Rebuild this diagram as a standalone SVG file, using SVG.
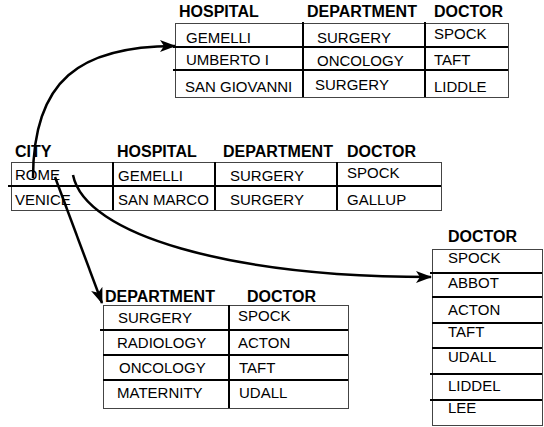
<svg xmlns="http://www.w3.org/2000/svg" width="544" height="427" viewBox="0 0 544 427">
<style>
.box{fill:#fff;stroke:#444;stroke-width:1}
.ln{stroke:#000;stroke-width:2;fill:none}
.h{font-family:"Liberation Sans",Arial,sans-serif;font-weight:bold;font-size:16px;fill:#000}
.d{font-family:"Liberation Sans",Arial,sans-serif;font-size:15px;fill:#000}
.con{stroke:#000;stroke-width:2.5;fill:none}
</style>
<defs>
<marker id="ah" viewBox="0 0 16 12" refX="15" refY="6" markerWidth="16" markerHeight="12" markerUnits="userSpaceOnUse" orient="auto">
<path d="M0,0 L16,6 L0,12 L4,6 Z" fill="#000"/>
</marker>
</defs>
<rect width="544" height="427" fill="#fff"/>

<g id="table-top">
<rect class="box" x="175.5" y="23.5" width="333" height="74"/>
<line class="ln" x1="173" y1="47" x2="508" y2="47"/>
<line class="ln" x1="173" y1="70" x2="508" y2="70"/>
<line class="ln" x1="303" y1="22" x2="303" y2="97"/>
<line class="ln" x1="425" y1="22" x2="425" y2="97"/>
<text class="h" x="179" y="17">HOSPITAL</text>
<text class="h" x="307" y="17">DEPARTMENT</text>
<text class="h" x="434" y="17">DOCTOR</text>
<text class="d" x="186" y="43">GEMELLI</text>
<text class="d" x="186" y="65">UMBERTO I</text>
<text class="d" x="185" y="92">SAN GIOVANNI</text>
<text class="d" x="317" y="43">SURGERY</text>
<text class="d" x="317" y="66">ONCOLOGY</text>
<text class="d" x="315" y="90">SURGERY</text>
<text class="d" x="434" y="39">SPOCK</text>
<text class="d" x="434" y="65">TAFT</text>
<text class="d" x="434" y="92">LIDDLE</text>
</g>

<g id="table-middle">
<rect class="box" x="11.5" y="162.5" width="430" height="48"/>
<line class="ln" x1="8" y1="186" x2="441" y2="186"/>
<line class="ln" x1="113" y1="162" x2="113" y2="210"/>
<line class="ln" x1="215" y1="162" x2="215" y2="210"/>
<line class="ln" x1="337" y1="162" x2="337" y2="210"/>
<text class="h" x="15" y="157">CITY</text>
<text class="h" x="117" y="157">HOSPITAL</text>
<text class="h" x="223" y="157">DEPARTMENT</text>
<text class="h" x="347" y="157">DOCTOR</text>
<text class="d" x="15" y="180">ROME</text>
<text class="d" x="15" y="205">VENICE</text>
<text class="d" x="118" y="181">GEMELLI</text>
<text class="d" x="118" y="205">SAN MARCO</text>
<text class="d" x="230" y="181">SURGERY</text>
<text class="d" x="230" y="205">SURGERY</text>
<text class="d" x="347" y="178">SPOCK</text>
<text class="d" x="347" y="205">GALLUP</text>
</g>

<g id="table-bottom">
<rect class="box" x="103.5" y="305.5" width="245" height="103"/>
<line class="ln" x1="100" y1="330" x2="348" y2="330"/>
<line class="ln" x1="103" y1="355" x2="348" y2="355"/>
<line class="ln" x1="103" y1="380" x2="348" y2="380"/>
<line class="ln" x1="229" y1="305" x2="229" y2="408"/>
<text class="h" x="105" y="302">DEPARTMENT</text>
<text class="h" x="247" y="302">DOCTOR</text>
<text class="d" x="118" y="323">SURGERY</text>
<text class="d" x="117" y="348">RADIOLOGY</text>
<text class="d" x="119" y="373">ONCOLOGY</text>
<text class="d" x="117" y="398">MATERNITY</text>
<text class="d" x="238" y="321">SPOCK</text>
<text class="d" x="238" y="348">ACTON</text>
<text class="d" x="239" y="373">TAFT</text>
<text class="d" x="239" y="398">UDALL</text>
</g>

<g id="table-right">
<rect class="box" x="432.5" y="249.5" width="110" height="176"/>
<line class="ln" x1="430" y1="273" x2="542" y2="273"/>
<line class="ln" x1="432" y1="297" x2="542" y2="297"/>
<line class="ln" x1="432" y1="323" x2="542" y2="323"/>
<line class="ln" x1="432" y1="348" x2="542" y2="348"/>
<line class="ln" x1="430" y1="374" x2="542" y2="374"/>
<line class="ln" x1="430" y1="400" x2="542" y2="400"/>
<text class="h" x="448" y="242">DOCTOR</text>
<text class="d" x="448" y="263">SPOCK</text>
<text class="d" x="448" y="288">ABBOT</text>
<text class="d" x="448" y="315">ACTON</text>
<text class="d" x="448" y="337">TAFT</text>
<text class="d" x="448" y="362">UDALL</text>
<text class="d" x="448" y="391">LIDDEL</text>
<text class="d" x="448" y="413">LEE</text>
</g>

<g id="connectors">
<path class="con" d="M33,178 C33,80 80,46 175,46" marker-end="url(#ah)"/>
<path class="con" d="M55,177 L102,303" marker-end="url(#ah)"/>
<path class="con" d="M73,175 C85,235 230,277 431,277" marker-end="url(#ah)"/>
</g>
</svg>
